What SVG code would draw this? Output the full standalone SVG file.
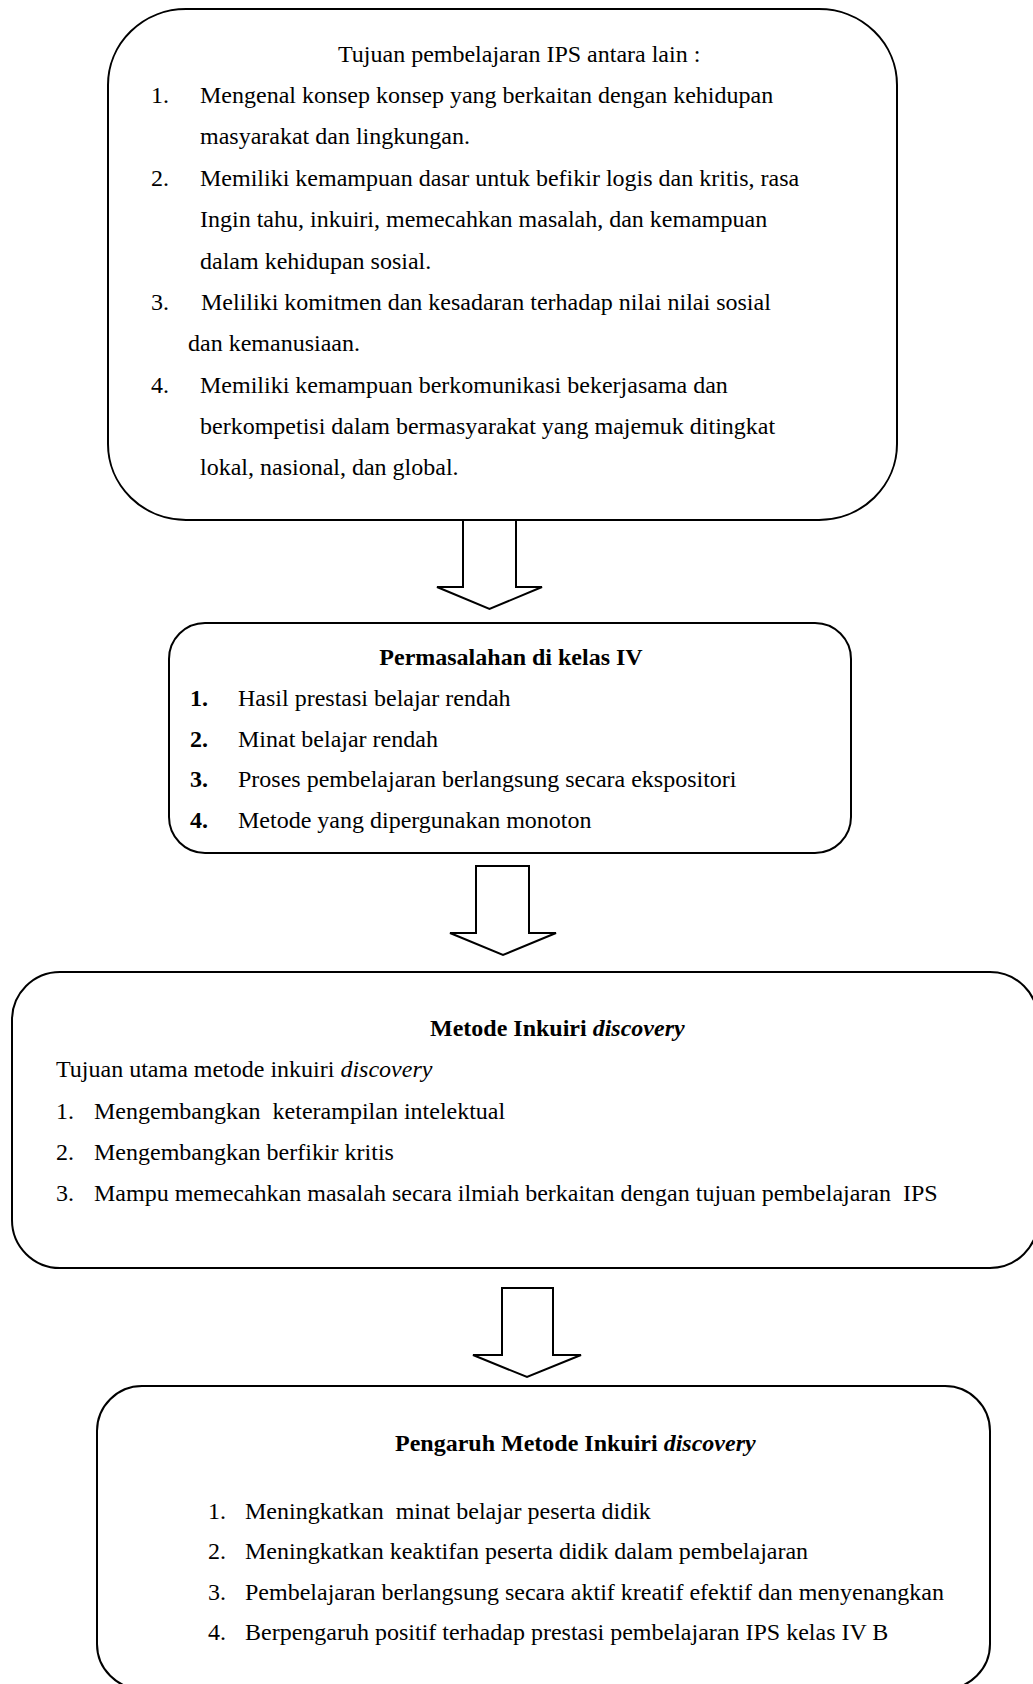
<svg xmlns="http://www.w3.org/2000/svg" width="1033" height="1684" viewBox="0 0 1033 1684">
<style>
.box{fill:#fff;stroke:#000;stroke-width:2}
.arr{fill:#fff;stroke:#000;stroke-width:2;stroke-linejoin:miter}
text{font-family:"Liberation Serif","Times New Roman",serif;font-size:24px;fill:#000;white-space:pre}
.b{font-weight:bold}
.i{font-style:italic}
</style>
<rect width="1033" height="1684" fill="#fff"/>
<g id="node-tujuan">
<rect class="box" x="108" y="9" width="789" height="511" rx="78" ry="76"/>
<text x="338" y="62">Tujuan pembelajaran IPS antara lain :</text>
<text x="151" y="103">1.</text>
<text x="200" y="103">Mengenal konsep konsep yang berkaitan dengan kehidupan</text>
<text x="200" y="144">masyarakat dan lingkungan.</text>
<text x="151" y="186">2.</text>
<text x="200" y="186">Memiliki kemampuan dasar untuk befikir logis dan kritis, rasa</text>
<text x="200" y="227">Ingin tahu, inkuiri, memecahkan masalah, dan kemampuan</text>
<text x="200" y="269">dalam kehidupan sosial.</text>
<text x="151" y="310">3.</text>
<text x="201" y="310">Meliliki komitmen dan kesadaran terhadap nilai nilai sosial</text>
<text x="188" y="351">dan kemanusiaan.</text>
<text x="151" y="393">4.</text>
<text x="200" y="393">Memiliki kemampuan berkomunikasi bekerjasama dan</text>
<text x="200" y="434">berkompetisi dalam bermasyarakat yang majemuk ditingkat</text>
<text x="200" y="475">lokal, nasional, dan global.</text>
</g>
<g id="node-permasalahan">
<rect class="box" x="169" y="623" width="682" height="230" rx="36" ry="36"/>
<text class="b" x="511" y="665" text-anchor="middle">Permasalahan di kelas IV</text>
<text class="b" x="190" y="706">1.</text>
<text x="238" y="706">Hasil prestasi belajar rendah</text>
<text class="b" x="190" y="747">2.</text>
<text x="238" y="747">Minat belajar rendah</text>
<text class="b" x="190" y="787">3.</text>
<text x="238" y="787">Proses pembelajaran berlangsung secara ekspositori</text>
<text class="b" x="190" y="828">4.</text>
<text x="238" y="828">Metode yang dipergunakan monoton</text>
</g>
<g id="node-metode">
<rect class="box" x="12" y="972" width="1026" height="296" rx="48" ry="48"/>
<text x="430" y="1036"><tspan class="b">Metode Inkuiri </tspan><tspan class="b i">discovery</tspan></text>
<text x="56" y="1077">Tujuan utama metode inkuiri <tspan class="i">discovery</tspan></text>
<text x="56" y="1119">1.</text>
<text x="94" y="1119">Mengembangkan  keterampilan intelektual</text>
<text x="56" y="1160">2.</text>
<text x="94" y="1160">Mengembangkan berfikir kritis</text>
<text x="56" y="1201">3.</text>
<text x="94" y="1201">Mampu memecahkan masalah secara ilmiah berkaitan dengan tujuan pembelajaran  IPS</text>
</g>
<g id="node-pengaruh">
<rect class="box" x="97" y="1386" width="893" height="303" rx="45" ry="45"/>
<text x="395" y="1451"><tspan class="b">Pengaruh Metode Inkuiri </tspan><tspan class="b i">discovery</tspan></text>
<text x="208" y="1519">1.</text>
<text x="245" y="1519">Meningkatkan  minat belajar peserta didik</text>
<text x="208" y="1559">2.</text>
<text x="245" y="1559">Meningkatkan keaktifan peserta didik dalam pembelajaran</text>
<text x="208" y="1600">3.</text>
<text x="245" y="1600">Pembelajaran berlangsung secara aktif kreatif efektif dan menyenangkan</text>
<text x="208" y="1640">4.</text>
<text x="245" y="1640">Berpengaruh positif terhadap prestasi pembelajaran IPS kelas IV B</text>
</g>
<g id="connectors">
<polygon class="arr" points="463,520 516,520 516,587 542,587 489.5,609 437,587 463,587"/>
<polygon class="arr" points="476,866 529,866 529,933 556,933 503,955 450,933 476,933"/>
<polygon class="arr" points="502,1288 553,1288 553,1355 581,1355 527,1377 473,1355 502,1355"/>
</g>
</svg>
